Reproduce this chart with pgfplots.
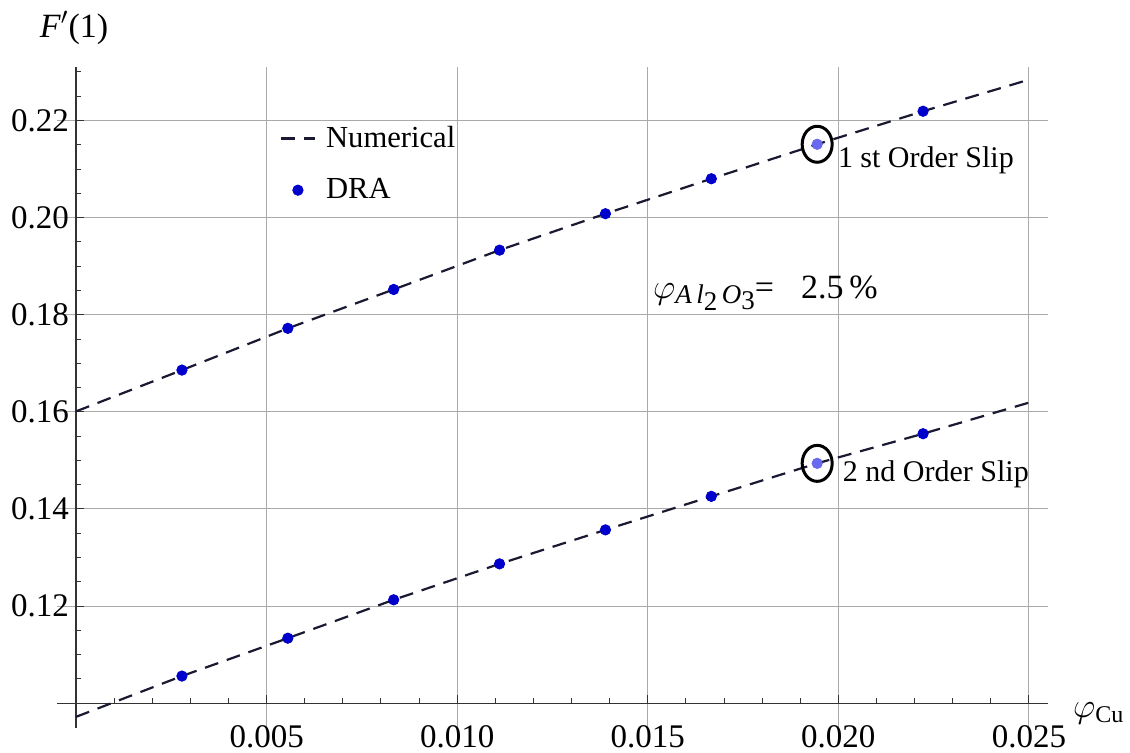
\documentclass[border=0pt]{standalone}
\usepackage{amsmath}
\usepackage{fontspec}
\setmainfont{Liberation Serif}
\usepackage{pgfplots}
\pgfplotsset{compat=1.18}
\definecolor{dra}{RGB}{0,0,204}
\definecolor{dralight}{RGB}{105,105,240}
\definecolor{numc}{RGB}{25,25,50}
\definecolor{gridc}{RGB}{170,170,170}
\newcommand{\fs}{\fontsize{15}{18}\selectfont}
\newcommand{\ft}{\fontsize{16.5}{19}\selectfont}
\begin{document}
\begin{tikzpicture}
\path[use as bounding box] (-28.5pt,-12pt) rectangle (536.5pt,364pt);
% background grid (full plot region)
\begin{axis}[
  scale only axis, width=495.5pt, height=330.5pt,
  at={(0pt,0pt)}, anchor=south west,
  xmin=-0.0005, xmax=0.0255, ymin=0.0949, ymax=0.231,
  xtick={0.005,0.010,0.015,0.020,0.025},
  ytick={0.12,0.14,0.16,0.18,0.20,0.22},
  scaled ticks=false,
  axis line style={draw=none}, major tick length=0pt,
  xticklabels={}, yticklabels={},
  grid=major, major grid style={gridc, line width=0.5pt}]
\end{axis}
% main axis: origin at (0, 0.10)
\begin{axis}[
  scale only axis, width=485.97pt, height=318.1pt,
  at={(9.53pt,12.38pt)}, anchor=south west,
  xmin=0, xmax=0.0255, ymin=0.10, ymax=0.231,
  xtick={0.005,0.010,0.015,0.020,0.025},
  ytick={0.12,0.14,0.16,0.18,0.20,0.22},
  scaled ticks=false, clip=false,
  axis x line=bottom, axis y line=left,
  axis line style={draw=none},
  minor xtick={0.001,0.002,0.003,0.004,0.006,0.007,0.008,0.009,0.011,0.012,0.013,0.014,0.016,0.017,0.018,0.019,0.021,0.022,0.023,0.024},
  minor ytick={0.105,0.11,0.115,0.125,0.13,0.135,0.145,0.15,0.155,0.165,0.17,0.175,0.185,0.19,0.195,0.205,0.21,0.215,0.225,0.23},
  tick align=inside,
  major tick length=4pt, minor tick length=2.5pt,
  tick style={black!80, line width=0.5pt},
  x tick label style={/pgf/number format/fixed, /pgf/number format/fixed zerofill, /pgf/number format/precision=3},
  y tick label style={/pgf/number format/fixed, /pgf/number format/fixed zerofill, /pgf/number format/precision=2},
  /pgf/number format/assume math mode=true,
  tick label style={font=\ft},
  xticklabel style={yshift=-7.5pt},
  legend style={draw=none, fill=none, at={(0.203,0.92)}, anchor=north west, font=\fontsize{15.3}{18}\selectfont, row sep=10pt},
  legend cell align=left,
]
\draw[black!80, line width=0.6pt] (axis cs:0,0.0949) -- (axis cs:0,0.231);
\draw[black!80, line width=0.6pt] (axis cs:-0.0005,0.10) -- (axis cs:0.0255,0.10);
\addplot[numc, line width=1.1pt, dash pattern=on 7pt off 4.5pt] coordinates {
(0,0.1601) (0.002778,0.1686) (0.005556,0.1772) (0.008333,0.1852) (0.011111,0.1933)
(0.013889,0.2008) (0.016667,0.2080) (0.019444,0.2151) (0.022222,0.2219) (0.025,0.2284)};
\addlegendentry{\hspace{3pt}Numerical}
\addplot[numc, line width=1.1pt, dash pattern=on 7pt off 4.5pt, forget plot] coordinates {
(0,0.0972) (0.002778,0.1056) (0.005556,0.1134) (0.008333,0.1213) (0.011111,0.1287)
(0.013889,0.1357) (0.016667,0.1426) (0.019444,0.1494) (0.022222,0.1555) (0.025,0.1619)};
\addplot[only marks, mark=*, mark size=2.6pt, dra, mark options={draw=dra, fill=dra}] coordinates {
(0.002778,0.1686) (0.005556,0.1772) (0.008333,0.1852) (0.011111,0.1933)
(0.013889,0.2008) (0.016667,0.2080) (0.022222,0.2219)
(0.002778,0.1056) (0.005556,0.1134) (0.008333,0.1213) (0.011111,0.1287)
(0.013889,0.1357) (0.016667,0.1426) (0.022222,0.1555)};
\addlegendentry{\hspace{3pt}DRA}
\addplot[only marks, mark=*, mark size=2.6pt, dralight, mark options={draw=dralight, fill=dralight}, forget plot] coordinates {
(0.019444,0.2151) (0.019444,0.1494)};
\addplot[only marks, mark=o, mark size=7.5pt, black, mark options={line width=1.5pt, yscale=1.2, draw=black}, forget plot] coordinates {
(0.019444,0.2151) (0.019444,0.1494)};
\node[anchor=base west, inner sep=0, font=\fs] at (axis cs:0.01998,0.2103) {1 st Order Slip};
\node[anchor=base west, inner sep=0, font=\fs] at (axis cs:0.02011,0.1456) {2 nd Order Slip};
\node[anchor=base west, inner sep=0] at (axis cs:0.01513,0.1834) {\fontsize{17}{19}\selectfont$\varphi$\raisebox{-2.5pt}{\fontsize{13.5}{15}\selectfont\itshape A\,l\raisebox{-3.5pt}{\upshape 2}\,O\raisebox{-3pt}{\upshape 3}}=\hspace{0.8em}2.5\,\%};
\node[anchor=base west, inner sep=0, font=\fontsize{17}{20}\selectfont] at (axis cs:-0.00096,0.2371) {\textit{F}$'$(1)};
\node[anchor=base west, inner sep=0, font=\fontsize{16}{19}\selectfont] at (axis cs:0.02615,0.09698) {$\varphi$\raisebox{-2.5pt}{\fontsize{12}{14}\selectfont Cu}};
\end{axis}
\end{tikzpicture}
\end{document}
